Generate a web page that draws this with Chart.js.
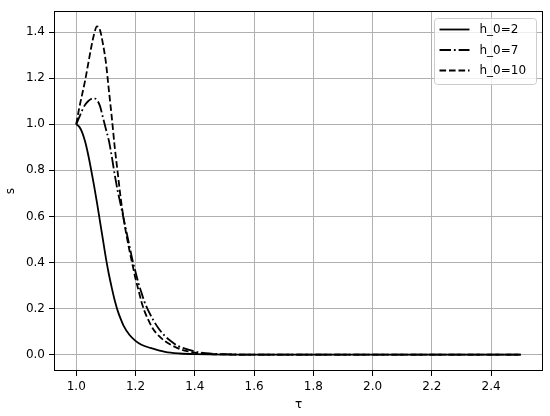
<!DOCTYPE html>
<html>
<head>
<meta charset="utf-8">
<script src="https://cdn.jsdelivr.net/npm/chart.js@4/dist/chart.umd.min.js"></script>
<style>
  html, body { margin: 0; padding: 0; background: #fff; }
  #wrap { width: 550px; height: 416px; position: relative; }
</style>
</head>
<body>
<div id="wrap"><canvas id="c" width="550" height="416"></canvas></div>
<script>
// ---- data ----
const seriesLabels = ["h_0=2", "h_0=7", "h_0=10"];

const tau_h2 = [1.00,1.01,1.02,1.03,1.04,1.05,1.06,1.07,1.08,1.09,1.10,1.11,1.12,1.13,1.14,1.15,1.16,1.18,1.20,1.22,1.25,1.30,1.35,1.40,1.50,1.60,1.80,2.00,2.20,2.40,2.50];
const s_h2   = [1.000,0.990,0.965,0.925,0.870,0.805,0.735,0.660,0.580,0.500,0.420,0.350,0.290,0.235,0.190,0.155,0.125,0.085,0.060,0.043,0.029,0.012,0.005,0.002,0.000,0.000,0.000,0.000,0.000,0.000,0.000];

const tau_h7 = [1.00,1.01,1.02,1.03,1.04,1.05,1.06,1.07,1.08,1.09,1.10,1.11,1.12,1.13,1.14,1.15,1.16,1.17,1.18,1.19,1.20,1.21,1.22,1.23,1.24,1.26,1.28,1.30,1.32,1.34,1.37,1.40,1.45,1.50,1.60,1.80,2.00,2.20,2.40,2.50];
const s_h7   = [1.000,1.030,1.060,1.085,1.100,1.110,1.113,1.105,1.080,1.030,0.980,0.930,0.860,0.780,0.710,0.650,0.590,0.530,0.470,0.410,0.360,0.310,0.270,0.230,0.200,0.150,0.110,0.080,0.058,0.040,0.025,0.014,0.005,0.002,0.000,0.000,0.000,0.000,0.000,0.000];

const tau_h10 = [1.00,1.01,1.02,1.03,1.04,1.05,1.06,1.07,1.08,1.09,1.10,1.11,1.12,1.13,1.14,1.15,1.16,1.17,1.18,1.19,1.20,1.21,1.22,1.23,1.24,1.26,1.28,1.30,1.32,1.36,1.40,1.45,1.50,1.60,1.80,2.00,2.20,2.40,2.50];
const s_h10   = [1.000,1.070,1.130,1.190,1.260,1.330,1.390,1.425,1.410,1.350,1.270,1.150,1.030,0.900,0.790,0.680,0.590,0.515,0.450,0.390,0.330,0.280,0.230,0.190,0.160,0.110,0.080,0.058,0.042,0.020,0.009,0.003,0.001,0.000,0.000,0.000,0.000,0.000,0.000];

const xTicks = [1.0,1.2,1.4,1.6,1.8,2.0,2.2,2.4];
const yTicks = [0.0,0.2,0.4,0.6,0.8,1.0,1.2,1.4];

// ---- build ----
function pts(xs, ys) { return xs.map((x, i) => ({x: x, y: ys[i]})); }

Chart.defaults.font.family = "'DejaVu Sans', sans-serif";
Chart.defaults.font.size = 12;
Chart.defaults.color = "#000";

const dashes = [[], [11.5, 2.9, 1.8, 2.9], [6.6, 2.9]];
const seriesData = [pts(tau_h2, s_h2), pts(tau_h7, s_h7), pts(tau_h10, s_h10)];

const frame = {
  id: "frame",
  afterDatasetsDraw(chart) {
    const a = chart.chartArea, ctx = chart.ctx;
    ctx.save();
    ctx.strokeStyle = "#000";
    ctx.lineWidth = 1;
    ctx.strokeRect(Math.round(a.left) + 0.5, Math.round(a.top) + 0.5,
                   Math.round(a.right - a.left) - 1, Math.round(a.bottom - a.top) - 1);
    ctx.restore();
  }
};

const mplLegend = {
  id: "mplLegend",
  afterDraw(chart) {
    const a = chart.chartArea, ctx = chart.ctx;
    const w = 102, h = 66;
    const x0 = Math.round(a.right - 7 - w) + 0.5, y0 = Math.round(a.top + 7) + 0.5;
    ctx.save();
    ctx.beginPath();
    const r = 3;
    ctx.moveTo(x0 + r, y0);
    ctx.lineTo(x0 + w - r, y0); ctx.arcTo(x0 + w, y0, x0 + w, y0 + r, r);
    ctx.lineTo(x0 + w, y0 + h - r); ctx.arcTo(x0 + w, y0 + h, x0 + w - r, y0 + h, r);
    ctx.lineTo(x0 + r, y0 + h); ctx.arcTo(x0, y0 + h, x0, y0 + h - r, r);
    ctx.lineTo(x0, y0 + r); ctx.arcTo(x0, y0, x0 + r, y0, r);
    ctx.closePath();
    ctx.fillStyle = "rgba(255,255,255,0.8)";
    ctx.fill();
    ctx.strokeStyle = "#cccccc";
    ctx.lineWidth = 1;
    ctx.stroke();
    chart.data.datasets.forEach((ds, i) => {
      const yy = y0 + 11 + i * 20.5;
      ctx.beginPath();
      ctx.setLineDash(ds.borderDash || []);
      ctx.strokeStyle = ds.borderColor;
      ctx.lineWidth = ds.borderWidth;
      ctx.moveTo(x0 + 5, yy);
      ctx.lineTo(x0 + 35, yy);
      ctx.stroke();
      ctx.setLineDash([]);
      ctx.fillStyle = "#000";
      ctx.font = "12px 'DejaVu Sans', sans-serif";
      ctx.textBaseline = "middle";
      ctx.textAlign = "left";
      ctx.fillText(ds.label, x0 + 45, yy + 0.5);
    });
    ctx.restore();
  }
};

new Chart(document.getElementById("c"), {
  type: "line",
  data: {
    datasets: seriesData.map((d, i) => ({
      label: seriesLabels[i],
      data: d,
      borderColor: "#000",
      backgroundColor: "#000",
      borderWidth: 1.8,
      borderDash: dashes[i],
      pointRadius: 0,
      fill: false,
      cubicInterpolationMode: "monotone"
    }))
  },
  options: {
    responsive: false,
    animation: false,
    layout: { padding: { top: 6, right: 7, left: 0, bottom: 0 } },
    plugins: { legend: { display: false }, tooltip: { enabled: false } },
    scales: {
      x: {
        type: "linear",
        min: 0.925, max: 2.575,
        afterBuildTicks(s) { s.ticks = xTicks.map(v => ({value: v})); },
        afterFit(s) { s.height = 45; },
        ticks: { callback: v => Number(v).toFixed(1), padding: 4, maxRotation: 0, autoSkip: false, color: "#000" },
        grid: { color: "#b0b0b0", lineWidth: 1, tickColor: "#000", tickLength: 5, drawTicks: true },
        border: { display: false },
        title: { display: true, text: "τ", color: "#000", font: { size: 12 }, padding: { top: 4, bottom: 4 } }
      },
      y: {
        type: "linear",
        min: -0.071, max: 1.491,
        afterBuildTicks(s) { s.ticks = yTicks.map(v => ({value: v})); },
        afterFit(s) { s.width = 54; },
        ticks: { callback: v => Number(v).toFixed(1), padding: 4, autoSkip: false, color: "#000" },
        grid: { color: "#b0b0b0", lineWidth: 1, tickColor: "#000", tickLength: 5, drawTicks: true },
        border: { display: false },
        title: { display: true, text: "s", color: "#000", font: { size: 12 }, padding: { top: 4, bottom: 4 } }
      }
    }
  },
  plugins: [frame, mplLegend]
});
</script>
</body>
</html>
